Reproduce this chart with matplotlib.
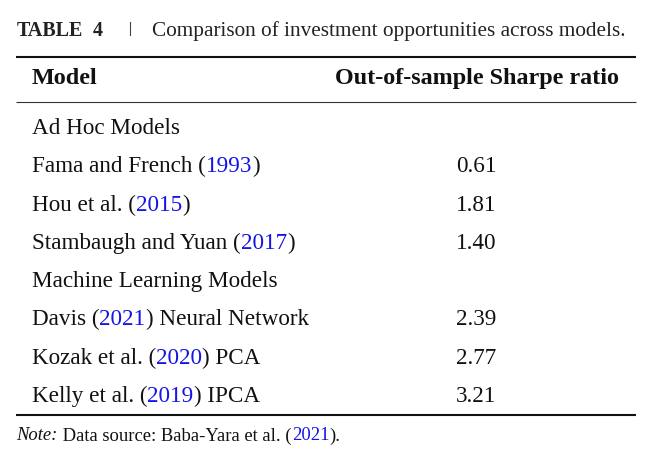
import matplotlib
matplotlib.use("Agg")
import matplotlib.pyplot as plt
from matplotlib.transforms import Affine2D
from matplotlib.lines import Line2D

# ---- data ----
table_number = "4"
caption = "Comparison of investment opportunities across models."
header_model = "Model"
header_value = "Out-of-sample Sharpe ratio"
groups = ["Ad Hoc Models", "Machine Learning Models"]
group_sizes = [3, 3]
model_names = ["Fama and French", "Hou et al.", "Stambaugh and Yuan",
               "Davis", "Kozak et al.", "Kelly et al."]
model_years = ["1993", "2015", "2017", "2021", "2020", "2019"]
model_suffix = ["", "", "", " Neural Network", " PCA", " IPCA"]
sharpe = [0.61, 1.81, 1.40, 2.39, 2.77, 3.21]
note_source = "Baba-Yara et al."
note_year = "2021"

# ---- layout ----
W, H = 672, 457
fig = plt.figure(figsize=(W / 100, H / 100), dpi=100)
fig.patch.set_facecolor("white")
px = Affine2D().scale(1 / W, -1 / H).translate(0, 1) + fig.transFigure
renderer = fig.canvas.get_renderer()

FONT = "Liberation Serif"
BLACK = "#111111"
BLUE = "#1414E6"
ROW_FS = 16.7


def width(parts, size, weight):
    """Pixel width of a run of parts drawn as one string."""
    s = "".join(p[0] for p in parts)
    style = parts[0][2]
    t = fig.text(0, 0, s, fontsize=size, family=FONT, style=style,
                 weight=weight)
    v = t.get_window_extent(renderer).width
    t.remove()
    return v


def segs(x0, y, parts, size, weight="normal"):
    """Draw consecutive text segments [(text, color, style)] starting at x0,
    lined up as if drawn as a single string."""
    wfull = width(parts, size, weight)
    for i, (text, color, style) in enumerate(parts):
        x = x0 if i == 0 else x0 + wfull - width(parts[i:], size, weight)
        fig.text(x, y, text, transform=px, fontsize=size, family=FONT,
                 color=color, style=style, weight=weight,
                 ha="left", va="baseline")


def hrule(y, lw, color=BLACK):
    fig.add_artist(Line2D([15.5, 635.5], [y, y], transform=px, color=color,
                          lw=lw, solid_capstyle="butt"))


# title
fig.text(16.5, 36, "TABLE", transform=px, fontsize=14.4, family=FONT,
         weight="bold", color="#222222", va="baseline")
fig.text(93, 36, table_number, transform=px, fontsize=14.4, family=FONT,
         weight="bold", color="#222222", va="baseline")
fig.add_artist(Line2D([129.5, 129.5], [21.5, 34.5], transform=px,
                      color="#444444", lw=0.8))
fig.text(151.5, 36, caption, transform=px, fontsize=15.3, family=FONT,
         color="#222222", va="baseline")

# rules
hrule(56.7, 1.5)
hrule(101.7, 0.8, "#333333")
hrule(414.8, 1.5)

# header
fig.text(32, 84.3, header_model, transform=px, fontsize=17.4, family=FONT,
         weight="bold", color=BLACK, va="baseline")
fig.text(477, 84.3, header_value, transform=px, fontsize=17.4, family=FONT,
         weight="bold", color=BLACK, va="baseline", ha="center")

# body
y0, step = 134.0, 38.28
row = 0
k = 0
for g, n in zip(groups, group_sizes):
    y = y0 + row * step
    fig.text(32, y, g, transform=px, fontsize=ROW_FS, family=FONT,
             color=BLACK, va="baseline")
    row += 1
    for _ in range(n):
        y = y0 + row * step
        segs(32, y, [(model_names[k] + " (", BLACK, "normal"),
                     (model_years[k], BLUE, "normal"),
                     (")" + model_suffix[k], BLACK, "normal")], ROW_FS)
        fig.text(476, y, f"{sharpe[k]:.2f}", transform=px, fontsize=ROW_FS,
                 family=FONT, color=BLACK, va="baseline", ha="center")
        row += 1
        k += 1

# note: italic "Note:" then upright rest
NOTE_FS = 13.4
t_note = fig.text(16.5, 440.5, "Note:", transform=px, fontsize=NOTE_FS,
                  family=FONT, style="italic", color=BLACK, va="baseline")
xn = 16.5 + t_note.get_window_extent(renderer).width + 0.5
segs(xn, 440.5, [(" Data source: " + note_source + " (", BLACK, "normal"),
                 (note_year, BLUE, "normal"),
                 (").", BLACK, "normal")], NOTE_FS)

fig.savefig("out.png", dpi=100, facecolor="white")
